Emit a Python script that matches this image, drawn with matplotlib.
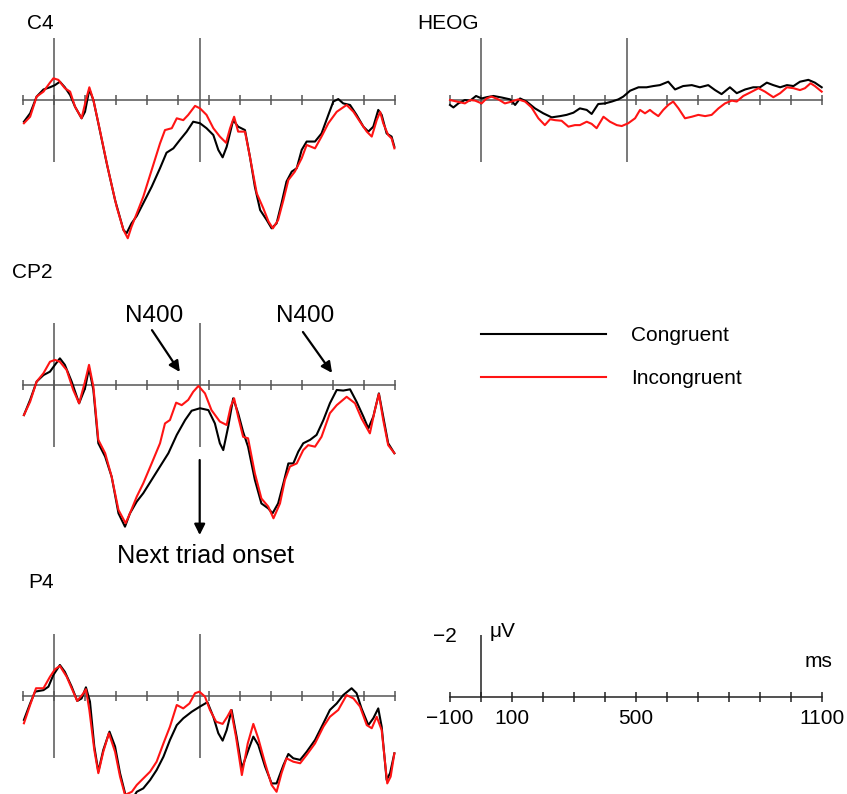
import numpy as np
import matplotlib
matplotlib.use("Agg")
import matplotlib.pyplot as plt

plt.rcParams['font.family'] = ['Liberation Sans', 'DejaVu Sans']

# ---------------- data (ms, microvolts; negative plotted up) ----------------
onset_ms = 470
tick_ms = list(range(-100, 1101, 100))
scale_labels = {-100: '\u2212100', 100: '100', 500: '500', 1100: '1100'}

c4_congruent = [(-97, 0.70), (-77, 0.43), (-56, -0.11), (-34, -0.34), (-13, -0.41), (3, -0.48), (19, -0.59),
                (35, -0.41), (52, -0.16), (68, 0.22), (89, 0.59), (100, 0.38), (114, -0.34), (127, 0.0),
                (143, 0.75), (170, 2.04), (197, 3.23), (224, 4.19), (234, 4.30), (250, 3.98), (267, 3.74),
                (288, 3.33), (315, 2.80), (342, 2.20), (363, 1.70), (385, 1.56), (406, 1.29), (428, 1.02),
                (449, 0.70), (471, 0.75), (492, 0.91), (514, 1.13), (530, 1.61), (544, 1.85), (557, 1.51),
                (578, 0.65), (594, 0.86), (616, 0.97), (632, 1.83), (648, 2.80), (665, 3.55), (686, 3.87),
                (702, 4.14), (718, 3.98), (734, 3.33), (750, 2.63), (767, 2.31), (783, 2.20), (799, 1.61),
                (815, 1.34), (842, 1.34), (863, 1.08), (885, 0.48), (901, 0.05), (917, -0.03), (933, 0.11),
                (955, 0.16), (976, 0.48), (998, 0.86), (1014, 1.02), (1030, 0.86), (1046, 0.32), (1057, 0.48),
                (1073, 1.08), (1089, 1.18), (1098, 1.51)]
c4_incongruent = [(-97, 0.75), (-77, 0.54), (-56, -0.11), (-34, -0.27), (-13, -0.56), (-2, -0.70), (14, -0.65),
                  (35, -0.38), (52, -0.27), (68, 0.22), (89, 0.59), (103, 0.0), (114, -0.41), (127, 0.0),
                  (148, 0.97), (175, 2.26), (202, 3.44), (224, 4.19), (238, 4.46), (250, 4.09), (267, 3.66),
                  (288, 3.12), (315, 2.26), (342, 1.40), (358, 0.97), (380, 0.91), (396, 0.59), (417, 0.65),
                  (433, 0.48), (455, 0.19), (471, 0.27), (492, 0.48), (514, 0.91), (535, 1.18), (555, 1.38),
                  (568, 0.91), (581, 0.54), (594, 1.02), (616, 1.02), (632, 1.83), (654, 3.01), (675, 3.49),
                  (692, 3.92), (706, 4.14), (723, 3.87), (740, 3.23), (756, 2.58), (777, 2.31), (799, 1.88),
                  (815, 1.45), (842, 1.56), (863, 1.18), (885, 0.75), (912, 0.38), (944, 0.16), (966, 0.38),
                  (987, 0.70), (1009, 1.02), (1025, 1.18), (1041, 0.65), (1052, 0.38), (1062, 0.75),
                  (1078, 1.13), (1089, 1.24), (1098, 1.56)]

cp2_congruent = [(-97, 0.97), (-77, 0.48), (-56, -0.11), (-34, -0.32), (-13, -0.43), (3, -0.65), (19, -0.86),
                 (35, -0.65), (57, -0.11), (81, 0.59), (100, 0.11), (113, -0.54), (127, 0.16), (143, 1.88),
                 (165, 2.31), (186, 2.96), (208, 4.14), (229, 4.57), (245, 4.14), (267, 3.76), (288, 3.49),
                 (315, 3.06), (342, 2.63), (369, 2.20), (396, 1.61), (423, 1.13), (444, 0.83), (471, 0.75),
                 (498, 0.81), (519, 1.24), (535, 1.88), (546, 2.10), (562, 1.34), (578, 0.43), (594, 0.91),
                 (610, 1.51), (626, 1.99), (648, 3.06), (669, 3.82), (691, 3.98), (705, 4.14), (723, 3.82),
                 (740, 3.17), (756, 2.53), (772, 2.53), (788, 2.15), (804, 1.88), (826, 1.77), (847, 1.61),
                 (869, 1.13), (890, 0.59), (912, 0.16), (933, 0.18), (955, 0.14), (976, 0.54), (998, 1.02),
                 (1014, 1.40), (1030, 1.02), (1048, 0.27), (1062, 1.02), (1078, 1.88), (1098, 2.20)]
cp2_incongruent = [(-97, 0.97), (-77, 0.54), (-56, -0.11), (-34, -0.38), (-13, -0.75), (3, -0.81), (19, -0.75),
                   (41, -0.48), (62, 0.16), (81, 0.59), (100, -0.11), (113, -0.65), (127, 0.05), (143, 1.77),
                   (165, 2.20), (186, 2.96), (208, 4.03), (231, 4.46), (245, 4.14), (267, 3.60), (288, 3.17),
                   (315, 2.53), (342, 1.88), (358, 1.24), (374, 1.13), (394, 0.57), (412, 0.65), (433, 0.48),
                   (449, 0.22), (466, 0.03), (487, 0.27), (508, 0.81), (535, 1.18), (557, 1.29), (570, 0.70),
                   (581, 0.43), (594, 1.02), (610, 1.67), (626, 1.72), (648, 2.85), (669, 3.66), (691, 3.92),
                   (708, 4.30), (729, 3.82), (745, 3.06), (761, 2.63), (783, 2.53), (804, 2.10), (820, 1.94),
                   (842, 1.99), (863, 1.67), (890, 0.91), (912, 0.65), (944, 0.38), (971, 0.59), (992, 1.08),
                   (1019, 1.56), (1035, 0.81), (1048, 0.29), (1062, 1.13), (1078, 1.94), (1098, 2.20)]

p4_congruent = [(-97, 0.77), (-77, 0.24), (-61, -0.14), (-34, -0.19), (-18, -0.30), (-2, -0.68), (19, -1.00),
                (35, -0.78), (57, -0.30), (75, 0.16), (89, 0.08), (103, -0.28), (116, 0.18), (130, 1.63),
                (143, 2.44), (159, 1.74), (179, 1.15), (197, 1.63), (213, 2.49), (232, 3.25), (251, 3.35),
                (267, 3.09), (288, 2.98), (310, 2.71), (331, 2.39), (353, 1.96), (374, 1.42), (396, 0.94),
                (417, 0.72), (444, 0.51), (471, 0.34), (495, 0.20), (514, 0.67), (530, 1.20), (544, 1.44),
                (557, 1.10), (573, 0.45), (589, 1.31), (606, 2.33), (627, 1.74), (643, 1.31), (659, 1.58),
                (681, 2.28), (702, 2.82), (718, 2.82), (740, 2.23), (756, 1.87), (772, 2.01), (794, 2.06),
                (815, 1.80), (842, 1.42), (869, 0.88), (890, 0.45), (912, 0.24), (933, -0.03), (960, -0.25),
                (976, -0.09), (992, 0.40), (1014, 0.94), (1030, 0.72), (1046, 0.40), (1057, 0.99),
                (1073, 2.71), (1084, 2.49), (1098, 1.85)]
p4_incongruent = [(-97, 0.88), (-77, 0.29), (-58, -0.25), (-34, -0.25), (-13, -0.62), (3, -0.86), (19, -0.97),
                  (41, -0.62), (57, -0.25), (75, 0.16), (95, -0.09), (103, -0.22), (114, 0.45), (130, 1.74),
                  (143, 2.49), (159, 1.80), (177, 1.20), (197, 1.80), (213, 2.60), (229, 3.19), (251, 3.09),
                  (267, 2.87), (288, 2.66), (310, 2.44), (331, 2.12), (353, 1.53), (374, 0.99), (396, 0.29),
                  (417, 0.40), (437, 0.24), (455, -0.09), (469, -0.14), (487, 0.02), (503, 0.45), (523, 0.83),
                  (544, 0.90), (559, 0.67), (571, 0.45), (587, 1.31), (606, 2.55), (625, 1.53), (643, 0.90),
                  (659, 1.37), (681, 2.17), (702, 2.87), (718, 3.09), (734, 2.49), (750, 2.01), (772, 2.12),
                  (794, 2.17), (815, 1.90), (842, 1.53), (869, 0.99), (890, 0.67), (917, 0.45), (944, -0.03),
                  (966, 0.08), (987, 0.34), (1009, 0.94), (1025, 1.04), (1041, 0.67), (1057, 1.10),
                  (1075, 2.82), (1086, 2.60), (1098, 1.85)]

heog_congruent = [(-100, 0.16), (-89, 0.24), (-73, 0.11), (-52, 0.0), (-35, 0.02), (-16, -0.13), (2, -0.05),
                  (18, -0.09), (40, -0.13), (67, -0.08), (94, -0.02), (110, 0.16), (126, -0.05), (147, 0.05),
                  (174, 0.27), (201, 0.43), (228, 0.56), (255, 0.52), (276, 0.48), (298, 0.41), (319, 0.27),
                  (341, 0.32), (357, 0.45), (378, 0.13), (400, 0.11), (422, 0.05), (443, -0.02), (459, -0.11),
                  (481, -0.30), (508, -0.41), (534, -0.41), (556, -0.45), (577, -0.48), (604, -0.59),
                  (626, -0.34), (652, -0.45), (680, -0.48), (706, -0.41), (733, -0.48), (755, -0.32),
                  (776, -0.19), (803, -0.41), (825, -0.22), (852, -0.34), (878, -0.41), (900, -0.41),
                  (922, -0.56), (943, -0.48), (965, -0.41), (987, -0.48), (1008, -0.45), (1029, -0.59),
                  (1056, -0.65), (1077, -0.56), (1099, -0.41)]
heog_incongruent = [(-100, 0.0), (-78, 0.05), (-52, 0.11), (-35, 0.0), (-19, 0.02), (2, 0.11), (18, -0.05),
                    (34, -0.11), (56, -0.02), (77, 0.11), (99, 0.05), (120, -0.02), (142, 0.05), (163, 0.24),
                    (185, 0.59), (206, 0.81), (223, 0.62), (239, 0.65), (260, 0.67), (282, 0.86), (303, 0.81),
                    (319, 0.81), (341, 0.70), (357, 0.77), (373, 0.91), (395, 0.54), (416, 0.70), (438, 0.81),
                    (454, 0.84), (475, 0.75), (497, 0.59), (513, 0.32), (529, 0.43), (545, 0.32), (556, 0.41),
                    (572, 0.52), (588, 0.32), (604, 0.16), (620, 0.05), (637, 0.27), (658, 0.59), (680, 0.54),
                    (701, 0.48), (723, 0.52), (744, 0.48), (766, 0.27), (787, 0.11), (809, 0.02), (825, 0.05),
                    (846, -0.13), (868, -0.24), (895, -0.38), (916, -0.27), (943, -0.09), (965, -0.22),
                    (987, -0.41), (1008, -0.38), (1029, -0.32), (1045, -0.38), (1063, -0.54), (1077, -0.45),
                    (1099, -0.27)]

# ---------------- layout helpers (pixel based) ----------------
W, H = 847, 794
PX_MS = 0.31   # pixels per ms
PX_UV = 31.0   # pixels per microvolt
fig = plt.figure(figsize=(W / 100, H / 100), dpi=100)

AX_GRAY = '#555555'
RED = '#ff1414'


def panel(x0, y0, ytop, ybot, xlo=-115, xhi=1115):
    left = x0 + PX_MS * xlo
    top = y0 + PX_UV * ytop
    w = PX_MS * (xhi - xlo)
    h = PX_UV * (ybot - ytop)
    ax = fig.add_axes([left / W, 1 - (top + h) / H, w / W, h / H])
    ax.set_xlim(xlo, xhi)
    ax.set_ylim(ybot, ytop)
    ax.axis('off')
    ax.patch.set_alpha(0)
    return ax


def draw_frame(ax, color=AX_GRAY):
    ax.plot([-100, 1100], [0, 0], color=color, lw=1.1, zorder=1)
    ax.vlines(tick_ms, -0.16, 0.16, color=color, lw=1.1, zorder=1)
    ax.vlines([0, onset_ms], -2, 2, color=color, lw=1.1, zorder=1)


def draw_pair(ax, con, inc):
    t, v = np.array(con).T
    lc, = ax.plot(t, v, color='black', lw=1.5, zorder=3, solid_joinstyle='round')
    t, v = np.array(inc).T
    li, = ax.plot(t, v, color=RED, lw=1.5, zorder=4, solid_joinstyle='round')
    return lc, li


LABEL_FS = 15

ax_c4 = panel(54, 100, -2.6, 5.0)
draw_frame(ax_c4)
draw_pair(ax_c4, c4_congruent, c4_incongruent)
ax_c4.text(-87, -2.29, 'C4', fontsize=LABEL_FS, va='baseline')

ax_heog = panel(481, 100, -2.6, 2.5)
draw_frame(ax_heog)
draw_pair(ax_heog, heog_congruent, heog_incongruent)
ax_heog.text(-206, -2.29, 'HEOG', fontsize=LABEL_FS, va='baseline')

ax_cp2 = panel(54, 385, -3.8, 6.2)
draw_frame(ax_cp2)
lc, li = draw_pair(ax_cp2, cp2_congruent, cp2_incongruent)
ax_cp2.text(-135, -3.45, 'CP2', fontsize=LABEL_FS, va='baseline')
ann = dict(arrowstyle='-|>', color='black', lw=1.6, mutation_scale=16, shrinkA=0, shrinkB=0)
ax_cp2.annotate('', xy=(406, -0.42), xytext=(316, -1.77), arrowprops=ann)
ax_cp2.annotate('', xy=(897, -0.39), xytext=(803, -1.71), arrowprops=ann)
ax_cp2.text(323, -2.03, 'N400', fontsize=17.5, ha='center', va='baseline')
ax_cp2.text(811, -2.03, 'N400', fontsize=17.5, ha='center', va='baseline')
ax_cp2.annotate('', xy=(onset_ms, 4.84), xytext=(onset_ms, 2.42), arrowprops=ann)
ax_cp2.text(490, 5.74, 'Next triad onset', fontsize=18.2, ha='center', va='baseline')

ax_p4 = panel(54, 696, -3.8, 4.0)
draw_frame(ax_p4)
draw_pair(ax_p4, p4_congruent, p4_incongruent)
ax_p4.text(-84, -3.48, 'P4', fontsize=LABEL_FS, va='baseline')

# legend
fig.legend([lc, li], ['Congruent', 'Incongruent'], loc='upper left',
           bbox_to_anchor=(481 / W, 1 - 326 / H), frameon=False, fontsize=15,
           handlelength=6.0, handletextpad=1.2, labelspacing=1.15,
           borderpad=0, borderaxespad=0)

# scale bar
ax_sc = panel(481, 697, -3.0, 1.5)
ax_sc.plot([-100, 1100], [0, 0], color='#222222', lw=1.1)
ax_sc.vlines(tick_ms, -0.16, 0.16, color='#222222', lw=1.1)
ax_sc.vlines([0], -2, 0, color='#222222', lw=1.1)
ax_sc.text(-77, -1.94, '\u22122', fontsize=15, ha='right', va='center')
ax_sc.text(29, -2.1, '\u03bcV', fontsize=15, ha='left', va='center')
ax_sc.text(1090, -1.13, 'ms', fontsize=15, ha='center', va='center')
for t, s in scale_labels.items():
    ax_sc.text(t, 0.68, s, fontsize=15, ha='center', va='center')

fig.savefig('out.png', dpi=100)
